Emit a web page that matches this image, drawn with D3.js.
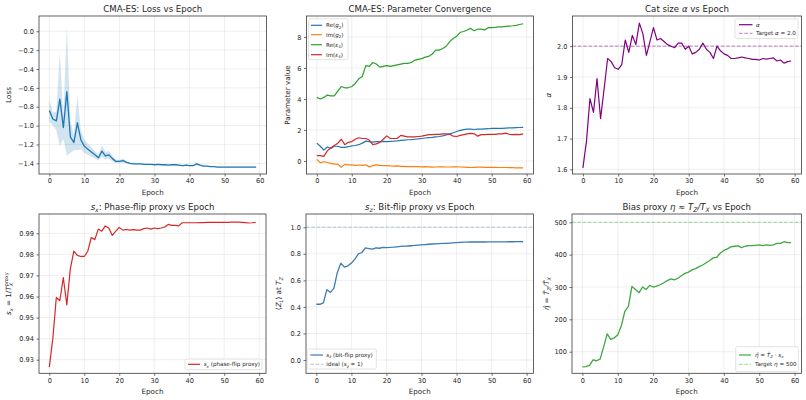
<!DOCTYPE html>
<html><head><meta charset="utf-8">
<script src="https://cdn.jsdelivr.net/npm/d3@7"></script>
<style>body{margin:0;background:#fff} svg{font-family:"DejaVu Sans",sans-serif}</style>
</head><body><svg id="c" width="806" height="400"></svg>
<script>
const epochs = d3.range(0, 60);
const xTicks = [0,10,20,30,40,50,60];

const lossMean = [-0.84,-0.93,-0.95,-0.72,-1.02,-0.64,-1.12,-1.18,-0.97,-1.15,
 -1.22,-1.25,-1.28,-1.31,-1.34,-1.27,-1.32,-1.31,-1.35,-1.38,
 -1.38,-1.37,-1.39,-1.40,-1.405,-1.405,-1.405,-1.41,-1.41,-1.41,
 -1.415,-1.41,-1.415,-1.415,-1.42,-1.415,-1.415,-1.42,-1.425,-1.42,
 -1.425,-1.425,-1.405,-1.42,-1.43,-1.43,-1.435,-1.435,-1.44,-1.44,
 -1.44,-1.44,-1.44,-1.44,-1.44,-1.44,-1.44,-1.44,-1.44,-1.44];
const lossStd = [0.12,0.07,0.1,0.5,0.12,0.68,0.17,0.08,0.29,0.1,
 0.07,0.06,0.05,0.04,0.03,0.06,0.04,0.04,0.03,0.02,
 0.015,0.02,0.01,0.008,0.006,0.006,0.005,0.005,0.005,0.005,
 0.005,0.005,0.005,0.005,0.005,0.006,0.005,0.005,0.005,0.005,
 0.005,0.005,0.015,0.008,0.005,0.004,0.004,0.003,0.003,0.003,
 0.003,0.003,0.003,0.003,0.003,0.003,0.003,0.003,0.003,0.003];
const lossTicks = [-1.4,-1.2,-1.0,-0.8,-0.6,-0.4,-0.2,0.0];

const reG2 = [1.15,0.95,0.7,0.9,0.8,0.95,0.95,0.88,0.88,0.92,
 0.97,1.0,1.05,1.15,1.28,1.25,1.22,1.25,1.25,1.27,
 1.25,1.27,1.28,1.3,1.33,1.35,1.37,1.38,1.4,1.42,
 1.45,1.48,1.5,1.52,1.55,1.58,1.62,1.68,1.75,1.82,
 1.9,1.97,2.02,2.05,2.05,2.03,2.05,2.06,2.07,2.08,
 2.1,2.1,2.1,2.1,2.12,2.13,2.14,2.15,2.16,2.17];
const imG2 = [0.1,-0.12,-0.05,-0.1,-0.15,-0.2,-0.2,-0.4,-0.22,-0.25,
 -0.25,-0.28,-0.26,-0.28,-0.25,-0.38,-0.3,-0.25,-0.28,-0.3,
 -0.3,-0.32,-0.33,-0.32,-0.35,-0.35,-0.36,-0.36,-0.37,-0.36,
 -0.38,-0.37,-0.38,-0.4,-0.39,-0.38,-0.38,-0.39,-0.39,-0.38,
 -0.38,-0.39,-0.4,-0.41,-0.42,-0.41,-0.4,-0.4,-0.41,-0.41,
 -0.41,-0.41,-0.42,-0.42,-0.42,-0.43,-0.43,-0.44,-0.44,-0.45];
const reE4 = [4.1,4.0,4.1,4.25,4.2,4.2,4.5,4.8,4.72,4.72,
 4.8,5.0,5.3,5.45,6.15,6.1,6.35,6.25,6.05,6.1,
 6.15,6.1,6.15,6.2,6.25,6.3,6.3,6.35,6.5,6.55,
 6.6,6.7,6.75,6.9,7.15,7.15,7.25,7.4,7.7,7.9,
 8.05,8.3,8.35,8.45,8.55,8.4,8.5,8.5,8.45,8.6,
 8.6,8.62,8.65,8.65,8.68,8.7,8.72,8.75,8.8,8.85];
const imE4 = [0.35,0.35,0.3,0.65,0.85,1.0,1.15,1.4,1.05,1.2,
 1.25,1.4,1.5,1.45,1.45,1.35,1.05,1.1,1.2,1.4,
 1.62,1.45,1.45,1.45,1.65,1.6,1.55,1.55,1.55,1.58,
 1.6,1.65,1.7,1.7,1.72,1.72,1.75,1.75,1.72,1.6,
 1.58,1.65,1.7,1.75,1.78,1.75,1.6,1.7,1.7,1.72,
 1.72,1.72,1.75,1.75,1.8,1.72,1.7,1.72,1.7,1.75];
const paramTicks = [0,2,4,6,8];

const alpha = [1.605,1.69,1.83,1.785,1.895,1.765,1.86,1.96,1.95,1.93,
 1.925,1.94,2.02,1.98,2.035,2.005,2.075,2.04,1.97,2.015,
 2.06,2.02,2.025,2.015,2.005,2.0,1.995,2.01,2.01,1.99,
 2.0,1.975,1.98,1.99,2.01,1.99,1.98,1.96,2.0,1.985,
 1.975,1.97,1.96,1.96,1.962,1.965,1.962,1.96,1.957,1.957,
 1.955,1.96,1.958,1.96,1.962,1.952,1.955,1.945,1.95,1.952];
const alphaTarget = 2.0;
const alphaTicks = [1.6,1.7,1.8,1.9,2.0];

const sx = [0.9265,0.94,0.9595,0.958,0.969,0.956,0.973,0.9815,0.9795,0.979,
 0.979,0.9815,0.988,0.987,0.992,0.991,0.9935,0.9925,0.989,0.991,
 0.9928,0.9915,0.9918,0.9915,0.9917,0.9915,0.9915,0.9922,0.9925,0.992,
 0.9925,0.9922,0.9925,0.993,0.9942,0.9938,0.9938,0.9935,0.995,0.995,
 0.995,0.995,0.995,0.9951,0.9951,0.9952,0.9952,0.9952,0.9952,0.9952,
 0.9952,0.9952,0.9953,0.9953,0.9953,0.9952,0.9951,0.9949,0.995,0.9952];
const sxTicks = [0.93,0.94,0.95,0.96,0.97,0.98,0.99];

const sz = [0.42,0.42,0.43,0.53,0.51,0.54,0.66,0.73,0.70,0.71,
 0.73,0.76,0.80,0.81,0.845,0.84,0.835,0.845,0.842,0.848,
 0.847,0.848,0.85,0.853,0.856,0.858,0.859,0.861,0.863,0.866,
 0.868,0.870,0.872,0.874,0.875,0.877,0.878,0.879,0.881,0.883,
 0.885,0.887,0.888,0.888,0.889,0.889,0.889,0.889,0.889,0.89,
 0.89,0.89,0.89,0.89,0.89,0.891,0.891,0.892,0.892,0.891];
const szIdeal = 1.0;
const szTicks = [0.0,0.2,0.4,0.6,0.8,1.0];

const eta = [53,54,58,75,72,77,115,155,138,143,
 152,180,225,240,302,292,282,300,292,305,
 300,303,307,313,320,325,322,327,335,342,
 346,353,357,363,368,375,382,390,392,405,
 413,418,424,426,427,422,426,428,428,429,
 430,428,430,429,430,435,435,440,437,437];
const etaTarget = 500;
const etaTicks = [100,200,300,400,500];

const svg = d3.select('#c');
const TICK = 6.6, LAB = 7.2, TIT = 8.6, LEG = 5.6;

// rich text: parts = [{t, i:italic, s:'sub'|'sup', stack:true}]
function rich(textSel, parts, fs) {
  let cur = 0, prev = null;
  parts.forEach(p => {
    const target = p.s === 'sub' ? 0.25 * fs : p.s === 'sup' ? -0.38 * fs : 0;
    const ts = textSel.append('tspan').text(p.t);
    if (target !== cur) ts.attr('dy', (target - cur).toFixed(2));
    cur = target;
    if (p.s) ts.attr('font-size', (fs * 0.7).toFixed(2));
    if (p.i) ts.attr('font-style', 'italic');
    if (p.stack && prev) ts.attr('dx', -prev.node().getComputedTextLength());
    prev = ts;
  });
}

function panel(o) {
  const g = svg.append('g');
  const x = d3.scaleLinear().domain([-2.95, 61.95]).range([o.x0, o.x1]);
  const y = d3.scaleLinear().domain(o.yDomain).range([o.y1, o.y0]);
  const grid = g.append('g').attr('stroke', '#b0b0b0').attr('stroke-opacity', 0.35).attr('stroke-width', 0.6);
  xTicks.forEach(t => grid.append('line').attr('x1', x(t)).attr('x2', x(t)).attr('y1', o.y0).attr('y2', o.y1));
  o.yTicks.forEach(t => grid.append('line').attr('x1', o.x0).attr('x2', o.x1).attr('y1', y(t)).attr('y2', y(t)));
  const ax = g.append('g').attr('transform', `translate(0,${o.y1})`)
    .call(d3.axisBottom(x).tickValues(xTicks).tickSize(2.5).tickPadding(2.2).tickFormat(d3.format('d')));
  const ay = g.append('g').attr('transform', `translate(${o.x0},0)`)
    .call(d3.axisLeft(y).tickValues(o.yTicks).tickSize(2.5).tickPadding(2.5).tickFormat(d3.format(o.fmt)));
  [ax, ay].forEach(a => {
    a.select('.domain').remove();
    a.selectAll('line').attr('stroke', '#333').attr('stroke-width', 0.7);
    a.selectAll('text').attr('font-size', TICK).attr('fill', '#262626').attr('font-family', '"DejaVu Sans",sans-serif');
  });
  const data = g.append('g');
  const tt = g.append('text').attr('x', (o.x0 + o.x1) / 2).attr('y', o.y0 - 4).attr('text-anchor', 'middle')
    .attr('font-size', TIT).attr('fill', '#262626');
  rich(tt, o.title, TIT);
  g.append('text').attr('x', (o.x0 + o.x1) / 2).attr('y', o.y1 + 20.5).attr('text-anchor', 'middle')
    .attr('font-size', LAB).attr('fill', '#262626').text('Epoch');
  const yl = g.append('text').attr('transform', `translate(${o.yl},${(o.y0 + o.y1) / 2}) rotate(-90)`)
    .attr('text-anchor', 'middle').attr('font-size', LAB).attr('fill', '#262626');
  rich(yl, o.ylabel, LAB);
  const frame = () => g.append('rect').attr('x', o.x0).attr('y', o.y0).attr('width', o.x1 - o.x0)
    .attr('height', o.y1 - o.y0).attr('fill', 'none').attr('stroke', '#3a3a3a').attr('stroke-width', 0.8);
  return { g, data, x, y, frame };
}

function series(p, vals, color, w, dash, op) {
  const line = d3.line().x((d, i) => p.x(epochs[i])).y(d => p.y(d));
  p.data.append('path').attr('d', line(vals)).attr('fill', 'none').attr('stroke', color)
    .attr('stroke-width', w).attr('stroke-dasharray', dash || null).attr('stroke-opacity', op || 1)
    .attr('stroke-linejoin', 'round');
}
function hline(p, v, color, op) {
  p.data.append('line').attr('x1', p.x.range()[0]).attr('x2', p.x.range()[1]).attr('y1', p.y(v)).attr('y2', p.y(v))
    .attr('stroke', color).attr('stroke-opacity', op).attr('stroke-width', 1).attr('stroke-dasharray', '3.7,1.6');
}
function legend(p, box, items) {
  const lg = p.g.append('g');
  lg.append('rect').attr('x', box.x).attr('y', box.y).attr('width', box.w).attr('height', box.h).attr('rx', 1.5)
    .attr('fill', '#fff').attr('fill-opacity', 0.85).attr('stroke', '#d0d0d0').attr('stroke-width', 0.6);
  items.forEach(it => {
    lg.append('line').attr('x1', box.lx0).attr('x2', box.lx1).attr('y1', it.y).attr('y2', it.y)
      .attr('stroke', it.color).attr('stroke-opacity', it.op || 1).attr('stroke-width', it.w || 1.2)
      .attr('stroke-dasharray', it.dash || null);
    const t = lg.append('text').attr('x', box.tx).attr('y', it.y + LEG * 0.36).attr('font-size', LEG).attr('fill', '#262626');
    rich(t, it.parts, LEG);
  });
}

const N = t => ({ t }), I = t => ({ t, i: true }), SB = t => ({ t, s: 'sub' }), SBI = t => ({ t, s: 'sub', i: true });

// Panel 1: loss
{
  const p = panel({ x0: 39, x1: 266.5, y0: 16, y1: 174, yDomain: [-1.513, 0.162], yTicks: lossTicks, fmt: '.1f',
    title: [N('CMA-ES: Loss vs Epoch')], ylabel: [N('Loss')], yl: 11 });
  const area = d3.area().x((d, i) => p.x(epochs[i])).y0((d, i) => p.y(d - lossStd[i])).y1((d, i) => p.y(d + lossStd[i]));
  p.data.append('path').attr('d', area(lossMean)).attr('fill', '#1f77b4').attr('fill-opacity', 0.2);
  series(p, lossMean, '#1f77b4', 1.3);
  p.frame();
}
// Panel 2: parameters
{
  const p = panel({ x0: 306.5, x1: 533.5, y0: 16, y1: 174, yDomain: [-0.84, 9.35], yTicks: paramTicks, fmt: 'd',
    title: [N('CMA-ES: Parameter Convergence')], ylabel: [N('Parameter value')], yl: 290 });
  series(p, reG2, '#1f77b4', 1.2);
  series(p, imG2, '#ff7f0e', 1.2);
  series(p, reE4, '#2ca02c', 1.2);
  series(p, imE4, '#d62728', 1.2);
  p.frame();
  legend(p, { x: 308.5, y: 18.7, w: 39.5, h: 41, lx0: 311, lx1: 322, tx: 326 }, [
    { y: 25.3, color: '#1f77b4', parts: [N('Re('), I('g'), SB('2'), N(')')] },
    { y: 34.7, color: '#ff7f0e', parts: [N('Im('), I('g'), SB('2'), N(')')] },
    { y: 44.7, color: '#2ca02c', parts: [N('Re('), I('ε'), SB('4'), N(')')] },
    { y: 54.7, color: '#d62728', parts: [N('Im('), I('ε'), SB('4'), N(')')] }
  ]);
}
// Panel 3: alpha
{
  const p = panel({ x0: 572.5, x1: 801.5, y0: 16, y1: 174, yDomain: [1.585, 2.098], yTicks: alphaTicks, fmt: '.1f',
    title: [N('Cat size '), I('α'), N(' vs Epoch')], ylabel: [I('α')], yl: 551 });
  hline(p, alphaTarget, '#800080', 0.5);
  series(p, alpha, '#800080', 1.2);
  p.frame();
  legend(p, { x: 735, y: 19, w: 63, h: 19.5, lx0: 739, lx1: 752.5, tx: 756 }, [
    { y: 24.7, color: '#800080', parts: [I('α')] },
    { y: 33.3, color: '#800080', op: 0.5, dash: '3.7,1.6', w: 1, parts: [N('Target '), I('α'), N(' = 2.0')] }
  ]);
}
// Panel 4: sx
{
  const p = panel({ x0: 39, x1: 266, y0: 214, y1: 373.3, yDomain: [0.92355, 0.99916], yTicks: sxTicks, fmt: '.2f',
    title: [I('s'), SBI('x'), N(': Phase-flip proxy vs Epoch')],
    ylabel: [I('s'), SBI('x'), N(' = 1/'), I('T'), SBI('X'), { t: 'proxy', s: 'sup', stack: true }], yl: 11 });
  series(p, sx, '#d62728', 1.2);
  p.frame();
  legend(p, { x: 185, y: 359, w: 77, h: 10.5, lx0: 188, lx1: 200, tx: 203.7 }, [
    { y: 364.3, color: '#d62728', parts: [I('s'), SBI('x'), N(' (phase-flip proxy)')] }
  ]);
}
// Panel 5: sz
{
  const p = panel({ x0: 306, x1: 533.5, y0: 214, y1: 373.3, yDomain: [-0.1, 1.1], yTicks: szTicks, fmt: '.1f',
    title: [I('s'), SBI('z'), N(': Bit-flip proxy vs Epoch')],
    ylabel: [N('⟨'), I('Z'), SBI('L'), N('⟩ at '), I('T'), SBI('Z')], yl: 281 });
  hline(p, szIdeal, '#9dbfdf', 0.9);
  series(p, sz, '#3d7ab5', 1.3);
  p.frame();
  legend(p, { x: 307.3, y: 349, w: 69, h: 20, lx0: 310.3, lx1: 323, tx: 326.3 }, [
    { y: 355, color: '#3d7ab5', parts: [I('s'), SBI('z'), N(' (bit-flip proxy)')] },
    { y: 364.3, color: '#9dbfdf', op: 0.9, dash: '3.7,1.6', w: 1, parts: [N('ideal ('), I('s'), SBI('z'), N(' = 1)')] }
  ]);
}
// Panel 6: eta
{
  const p = panel({ x0: 572, x1: 801.5, y0: 214, y1: 373.3, yDomain: [33.2, 525.7], yTicks: etaTicks, fmt: 'd',
    title: [N('Bias proxy '), I('η'), N(' ≈ '), I('T'), SBI('Z'), I('/T'), SBI('X'), N(' vs Epoch')],
    ylabel: [I('η̂'), N(' = '), I('T̂'), SBI('Z'), I('/T̂'), SBI('X')], yl: 549 });
  hline(p, etaTarget, '#7fd07f', 0.8);
  series(p, eta, '#3ea83e', 1.3);
  p.frame();
  legend(p, { x: 735.7, y: 346.7, w: 62.6, h: 25, lx0: 739, lx1: 751, tx: 755 }, [
    { y: 355, color: '#3ea83e', parts: [I('η̂'), N(' = '), I('T̂'), SBI('Z'), N(' · '), I('s'), SBI('x')] },
    { y: 364.3, color: '#7fd07f', op: 0.8, dash: '3.7,1.6', w: 1, parts: [N('Target '), I('η'), N(' = 500')] }
  ]);
}
</script></body></html>
